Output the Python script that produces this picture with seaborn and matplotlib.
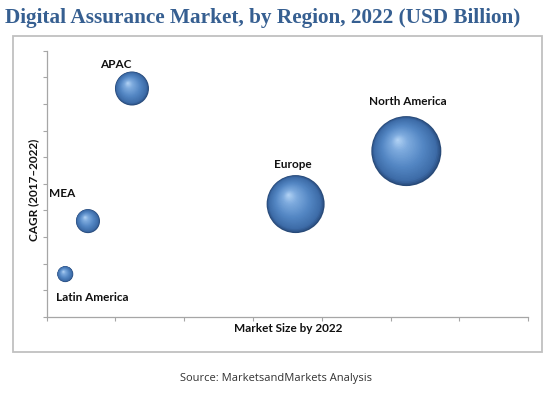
import numpy as np
import pandas as pd
import seaborn as sns
import matplotlib.pyplot as plt
import matplotlib.transforms as mtransforms
from matplotlib.colors import LinearSegmentedColormap
from matplotlib.patches import Rectangle

# data (axes have no tick labels, so units are relative)
regions = ["North America", "Europe", "APAC", "MEA", "Latin America"]
market_size = [5.23, 3.62, 1.24, 0.60, 0.27]
cagr = [6.23, 4.24, 8.58, 3.60, 1.61]
bubble = [12.25, 8.41, 2.89, 1.44, 0.64]

df = pd.DataFrame({"Region": regions, "Market": market_size, "CAGR": cagr, "Bubble": bubble})

sns.set_style("white")
plt.rcParams['font.family'] = ['Lato', 'DejaVu Sans']

fig = plt.figure(figsize=(5.52, 3.93), dpi=100)
ax = fig.add_axes([0.0846, 0.1934, 0.872, 0.6776])

smax = 2540
sns.scatterplot(data=df, x="Market", y="CAGR", size="Bubble", sizes=(0, smax),
                size_norm=(0, max(bubble)), color="#284a78", edgecolor="none",
                legend=False, ax=ax, zorder=2)

# fake sphere shading: stacked shrinking discs moving towards a highlight
cmap = LinearSegmentedColormap.from_list(
    "sphere", [(0, "#2a4e80"), (0.1, "#3d6ca8"), (0.4, "#5487c4"),
               (0.75, "#7eabde"), (1, "#b6d5f6")])
n = 30
for x, y, b in zip(market_size, cagr, bubble):
    s = b / max(bubble) * smax
    r = np.sqrt(s) / 2
    for k in range(1, n):
        f = 1 - k / n
        dx, dy = (1 - f) * -0.25 * r, (1 - f) * 0.32 * r
        tr = mtransforms.offset_copy(ax.transData, fig=fig, x=dx, y=dy, units="points")
        ax.scatter([x], [y], s=s * f * f, color=cmap(1 - f), edgecolor="none",
                   transform=tr, zorder=3 + k / n)

# labels
offsets = {"North America": (1.4, 36), "Europe": (-2.2, 28.8), "APAC": (-11.5, 17.3),
           "MEA": (-18.7, 20.2), "Latin America": (19.4, -16.6)}
for reg, x, y in zip(regions, market_size, cagr):
    ax.annotate(reg, (x, y), xytext=offsets[reg], textcoords="offset points",
                ha="center", va="center", fontsize=8.5, fontweight="bold", color="#111111")

ax.set_xlim(0, 7)
ax.set_ylim(0, 10)
ax.set_xticks(range(0, 8))
ax.set_yticks(range(0, 11))
ax.set_xticklabels([])
ax.set_yticklabels([])
ax.tick_params(axis="both", direction="out", length=3, width=0.8, color="#a6a6a6",
               bottom=True, left=True)
for side in ["top", "right"]:
    ax.spines[side].set_visible(False)
for side in ["left", "bottom"]:
    ax.spines[side].set_color("#a6a6a6")
    ax.spines[side].set_linewidth(0.9)

ax.set_xlabel("")
ax.set_ylabel("")
fig.text(288 / 552, 1 - 328 / 393, "Market Size by 2022", ha="center", va="center",
         fontsize=8.5, fontweight="bold", color="#111111")
fig.text(34 / 552, 1 - 190 / 393, "CAGR (2017\u20132022)", ha="center", va="center",
         rotation=90, fontsize=8.5, fontweight="bold", color="#111111")

fig.text(5 / 552, 1 - 18 / 393, "Digital Assurance Market, by Region, 2022 (USD Billion)",
         ha="left", va="center", fontsize=15.3, fontweight="bold", color="#365f91",
         family="Liberation Serif")
fig.text(276 / 552, 1 - 379 / 393, "Source: MarketsandMarkets Analysis", ha="center",
         va="center", fontsize=8, color="#333333", family="Open Sans")

fig.patches.append(Rectangle((13 / 552, 1 - 352 / 393), 529 / 552, 316 / 393,
                             transform=fig.transFigure, fill=False,
                             edgecolor="#c0c0c0", linewidth=1.3))

fig.savefig("out.png", dpi=100)
